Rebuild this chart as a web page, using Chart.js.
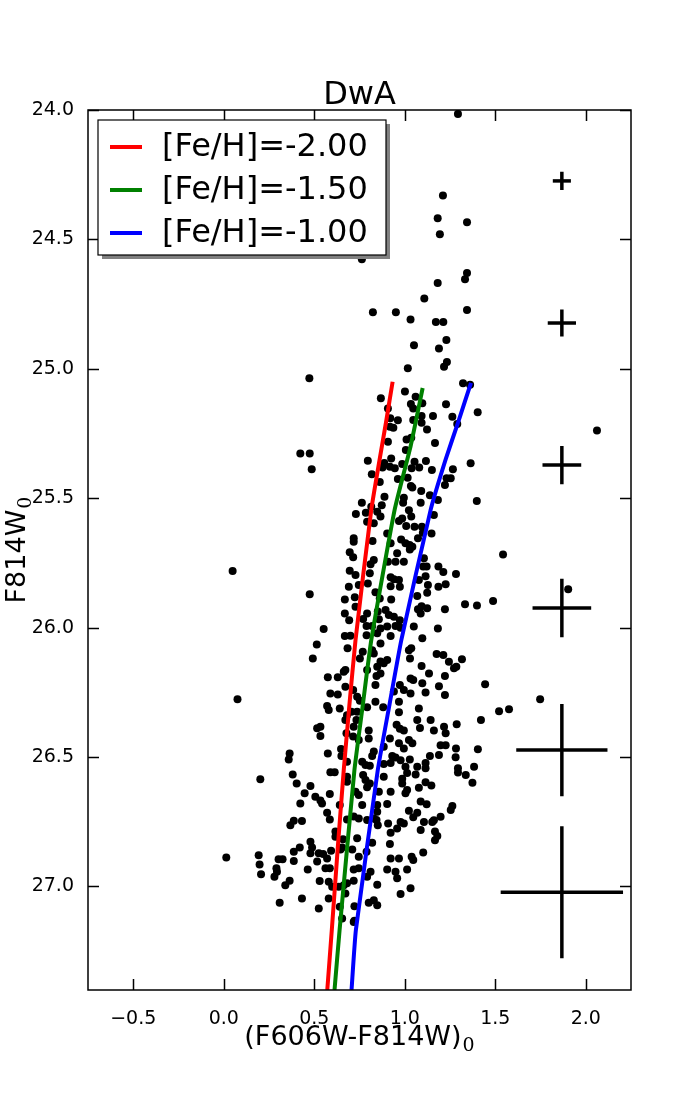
<!DOCTYPE html>
<html>
<head>
<meta charset="utf-8">
<script src="https://cdn.jsdelivr.net/npm/chart.js@4.4.0/dist/chart.umd.min.js"></script>
<style>
  html, body { margin: 0; padding: 0; background: #fff; }
</style>
</head>
<body>
<canvas id="cmd" width="700" height="1100"></canvas>
<script>
// stars: [colour (F606W-F814W)0, magnitude F814W0]
const stars = [
  [1.294,24.015],[1.211,24.330],[1.182,24.418],[1.344,24.434],[1.194,24.480],[0.763,24.577],[1.344,24.630],[1.333,24.654],
  [1.182,24.668],[1.108,24.728],[0.824,24.781],[0.951,24.781],[1.344,24.773],[1.032,24.809],[1.172,24.819],[1.213,24.819],
  [1.230,24.889],[1.051,24.909],[1.189,24.921],[1.233,24.974],[1.217,24.992],[1.017,24.998],[0.473,25.036],
  [0.423,25.327],[0.475,25.327],[0.486,25.388],
  [1.322,25.056],[1.361,25.062],[1.001,25.088],[0.868,25.114],[1.060,25.108],[1.097,25.133],[1.034,25.136],[1.047,25.153],
  [1.228,25.137],[1.403,25.168],[0.907,25.153],[0.920,25.191],[0.962,25.199],[1.047,25.198],[1.093,25.182],[1.093,25.208],
  [1.156,25.182],[1.263,25.185],[1.290,25.213],[0.918,25.224],[0.937,25.228],[1.123,25.234],[1.036,25.266],[1.010,25.273],
  [1.167,25.287],[0.907,25.282],[1.006,25.314],[0.796,25.355],[0.925,25.346],[0.887,25.364],[0.877,25.381],[0.918,25.378],
  [0.945,25.384],[0.986,25.368],[1.054,25.359],[1.038,25.384],[1.080,25.381],[1.117,25.356],[1.150,25.391],[1.266,25.388],
  [1.364,25.365],[0.818,25.407],[0.962,25.426],[1.016,25.421],[1.231,25.423],[1.254,25.423],[1.222,25.449],[0.862,25.437],
  [1.034,25.453],[1.042,25.459],[1.091,25.472],[0.888,25.494],[0.995,25.498],[1.139,25.488],[0.763,25.517],[0.815,25.533],
  [0.873,25.527],[0.991,25.517],[1.088,25.517],[1.183,25.507],[1.398,25.511],
  [2.062,25.238],[1.543,25.717],[1.213,25.785],[1.283,25.793],[1.226,25.832],[1.903,25.852],[1.333,25.910],[1.399,25.914],
  [1.488,25.897],[1.222,25.929],[1.213,26.106],[1.244,26.132],[1.272,26.157],[1.285,26.151],[1.316,26.122],[1.222,26.187],
  [1.444,26.219],[1.222,26.260],[1.748,26.277],[1.521,26.323],[1.576,26.315],[1.421,26.357],[1.287,26.373],[1.217,26.383],
  [0.730,25.561],[0.718,25.655],[0.718,25.668],[0.696,25.709],[0.715,25.728],[0.049,25.781],[0.696,25.780],[0.728,25.797],
  [0.691,25.842],[0.475,25.871],[0.669,25.891],[0.724,25.883],[0.669,25.945],[0.552,26.005],[0.669,26.032],[0.700,26.031],
  [0.785,25.556],[0.848,25.552],[1.023,25.546],[1.161,25.565],[0.792,25.591],[0.829,25.597],[0.866,25.571],[0.968,25.588],
  [0.986,25.578],[1.036,25.571],[1.008,25.607],[1.054,25.610],[1.095,25.610],[0.903,25.636],[1.100,25.633],[1.148,25.636],
  [0.822,25.665],[0.980,25.659],[1.004,25.674],[1.027,25.681],[1.073,25.655],[0.922,25.674],[0.958,25.713],[1.028,25.698],
  [1.042,25.687],[0.829,25.739],[0.907,25.745],[0.949,25.745],[0.995,25.745],[1.106,25.732],[1.102,25.764],[1.121,25.764],
  [1.186,25.764],[0.811,25.755],[0.807,25.790],[0.922,25.805],[0.940,25.813],[0.968,25.816],[1.078,25.816],[1.115,25.801],
  [0.746,25.835],[0.796,25.829],[0.922,25.840],[0.973,25.842],[1.128,25.835],[1.186,25.842],[0.838,25.863],[0.862,25.887],
  [0.925,25.891],[1.069,25.878],[1.124,25.865],[0.728,25.919],[0.792,25.945],[0.851,25.938],[0.857,25.968],[0.894,25.932],
  [0.912,25.951],[0.940,25.958],[0.973,25.971],[1.073,25.929],[1.093,25.917],[1.088,25.945],[1.124,25.925],[0.693,25.971],
  [0.770,25.967],[0.789,25.994],[0.820,25.994],[0.866,26.003],[0.903,25.996],[0.949,25.994],[0.977,26.000],[1.050,25.996],
  [1.183,26.003],[0.789,26.029],[0.848,26.022],[0.922,26.032],[1.097,26.041],
  [0.514,26.065],[0.684,26.080],[0.492,26.119],[0.752,26.119],[0.672,26.164],[0.663,26.170],[0.575,26.192],[0.630,26.192],
  [0.076,26.277],[0.589,26.254],[0.630,26.258],[0.715,26.241],[0.737,26.267],[0.752,26.282],[0.571,26.303],[0.580,26.318],
  [0.641,26.312],[0.681,26.338],[0.705,26.325],[0.672,26.357],[0.733,26.357],[0.534,26.383],[0.516,26.389],[0.534,26.419],
  [0.718,26.383],[0.715,26.421],[0.364,26.486],[0.359,26.509],[0.575,26.486],[0.648,26.469],[0.650,26.496],[0.681,26.518],
  [0.866,26.061],[0.768,26.093],[0.820,26.087],[0.829,26.100],[1.023,26.087],[1.036,26.080],[1.029,26.119],[1.176,26.102],
  [0.866,26.131],[0.884,26.138],[0.903,26.125],[0.848,26.151],[0.792,26.164],[1.093,26.148],[1.134,26.177],[1.032,26.196],
  [1.047,26.202],[0.844,26.187],[0.866,26.177],[0.838,26.222],[0.973,26.222],[0.995,26.241],[1.097,26.215],[1.115,26.251],
  [1.189,26.226],[0.672,26.228],[0.940,26.247],[1.032,26.254],[0.838,26.286],[0.792,26.308],[0.968,26.286],[0.881,26.308],
  [1.078,26.312],[0.737,26.325],[0.968,26.327],[1.069,26.357],[1.143,26.357],[0.955,26.375],[0.973,26.391],[0.995,26.397],
  [1.084,26.388],[1.161,26.397],[1.226,26.408],[0.801,26.397],[0.918,26.428],[1.023,26.434],[1.042,26.447],[0.801,26.428],
  [0.678,26.408],[1.198,26.454],[1.226,26.454],[1.283,26.467],[1.404,26.470],[0.995,26.467],[0.968,26.447],[0.884,26.460],
  [0.829,26.479],[0.820,26.496],[0.931,26.496],[0.949,26.502],[0.977,26.512],[1.028,26.509],[1.139,26.496],[1.189,26.492],
  [1.281,26.501],[0.746,26.434],[0.765,26.518],[0.783,26.531],[0.922,26.523],[1.004,26.537],[1.069,26.537],[1.115,26.523],
  [1.115,26.543],[1.383,26.537],[1.294,26.543],
  [0.202,26.586],[0.589,26.559],[0.613,26.559],[0.381,26.567],[0.403,26.602],[0.479,26.612],[0.447,26.640],[0.506,26.653],
  [0.534,26.668],[0.543,26.679],[0.586,26.643],[0.423,26.679],[0.641,26.685],[0.571,26.715],[0.586,26.741],[0.387,26.746],
  [0.368,26.763],[0.432,26.747],[0.681,26.741],[0.718,26.730],[0.617,26.788],[0.617,26.808],[0.479,26.827],[0.488,26.849],
  [0.659,26.818],[0.737,26.814],[0.420,26.849],[0.387,26.866],[0.014,26.888],[0.193,26.879],[0.198,26.915],[0.206,26.953],
  [0.303,26.895],[0.325,26.895],[0.387,26.902],[0.479,26.872],[0.525,26.872],[0.549,26.875],[0.571,26.892],[0.593,26.862],
  [0.645,26.857],[0.710,26.857],[0.464,26.934],[0.291,26.930],[0.280,26.962],[0.294,26.943],[0.516,26.904],[0.562,26.930],
  [0.586,26.930],[0.364,26.978],[0.340,26.995],[0.530,26.979],[0.580,26.982],[0.599,27.001],[0.635,27.001],[0.663,26.995],
  [0.681,26.988],[0.718,26.978],[0.432,27.046],[0.580,27.046],[0.309,27.063],[0.525,27.085],[0.641,27.078],[0.722,27.076],
  [0.722,27.132],
  [0.770,26.569],[0.807,26.534],[0.884,26.527],[0.986,26.584],[1.013,26.562],[1.060,26.567],[1.115,26.597],[1.147,26.610],
  [1.078,26.619],[1.294,26.560],[1.337,26.569],[1.374,26.599],[0.783,26.589],[0.807,26.602],[0.792,26.617],[0.681,26.576],
  [0.681,26.595],[0.884,26.576],[0.986,26.602],[1.013,26.627],[1.004,26.640],[0.857,26.634],[0.922,26.634],[0.728,26.634],
  [0.746,26.647],[0.848,26.685],[0.903,26.681],[0.765,26.685],[1.088,26.672],[1.121,26.682],[1.263,26.689],[1.254,26.705],
  [1.023,26.707],[1.069,26.715],[1.047,26.733],[0.848,26.711],[0.829,26.737],[0.844,26.743],[0.746,26.737],[0.792,26.743],
  [1.106,26.751],[1.152,26.751],[1.161,26.744],[1.198,26.731],[0.908,26.757],[0.977,26.751],[0.995,26.757],[0.958,26.776],
  [0.922,26.792],[1.088,26.782],[1.167,26.788],[1.180,26.805],[1.167,26.821],[0.851,26.763],[0.654,26.849],[0.820,26.831],
  [0.789,26.866],[0.918,26.836],[1.102,26.869],[0.922,26.892],[0.968,26.892],[1.038,26.885],[1.047,26.898],[0.746,26.885],
  [0.718,26.934],[0.746,26.930],[0.811,26.943],[0.792,26.962],[0.903,26.934],[0.949,26.943],[0.958,26.968],[1.013,26.934],
  [0.848,26.993],[0.672,27.027],[0.977,27.029],[1.032,27.007],[0.801,27.063],[0.829,27.053],[0.848,27.073],[0.654,27.124],
  [0.718,27.137]
];

// isochrones
const isoLabels = ['[Fe/H]=-2.00', '[Fe/H]=-1.50', '[Fe/H]=-1.00'];
const isoColours = ['#ff0000', '#008000', '#0000ff'];
const isoRedCol = [0.933, 0.898, 0.815, 0.728, 0.694, 0.663, 0.630, 0.597, 0.572];
const isoRedMag = [25.05, 25.20, 25.545, 26.048, 26.30, 26.55, 26.85, 27.168, 27.40];
const isoGreenCol = [1.099, 1.032, 0.944, 0.815, 0.768, 0.722, 0.640, 0.612];
const isoGreenMag = [25.074, 25.30, 25.545, 26.048, 26.30, 26.55, 27.168, 27.40];
const isoBlueCol = [1.366, 1.298, 1.226, 1.143, 0.981, 0.915, 0.851, 0.730, 0.706];
const isoBlueMag = [25.054, 25.20, 25.35, 25.545, 26.048, 26.30, 26.55, 27.168, 27.40];

// photometric error crosses
const errCol = [1.868, 1.868, 1.868, 1.868, 1.868, 1.868];
const errMag = [24.274, 24.823, 25.372, 25.924, 26.473, 27.022];
const errColSize = [0.050, 0.078, 0.107, 0.162, 0.252, 0.338];
const errMagSize = [0.035, 0.052, 0.074, 0.113, 0.178, 0.255];

// axes
const xTicks = [-0.5, 0.0, 0.5, 1.0, 1.5, 2.0];
const yTicks = [24.0, 24.5, 25.0, 25.5, 26.0, 26.5, 27.0];

const fmt = v => (v < 0 ? '\u2212' : '') + Math.abs(v).toFixed(1);
const pts = (cs, ms) => cs.map((c, i) => ({ x: c, y: ms[i] }));

const datasets = [];
[[isoRedCol, isoRedMag], [isoGreenCol, isoGreenMag], [isoBlueCol, isoBlueMag]].forEach((iso, k) => {
  datasets.push({
    type: 'line', label: isoLabels[k], data: pts(iso[0], iso[1]),
    borderColor: isoColours[k], borderWidth: 4, pointRadius: 0, fill: false, tension: 0.15, order: 0
  });
});
errCol.forEach((c, i) => {
  const m = errMag[i], dx = errColSize[i], dy = errMagSize[i];
  datasets.push({ type: 'line', label: 'err', data: [{ x: c - dx, y: m }, { x: c + dx, y: m }],
    borderColor: '#000', borderWidth: 3.5, borderCapStyle: 'butt', pointRadius: 0, order: 1 });
  datasets.push({ type: 'line', label: 'err', data: [{ x: c, y: m - dy }, { x: c, y: m + dy }],
    borderColor: '#000', borderWidth: 3.5, borderCapStyle: 'butt', pointRadius: 0, order: 1 });
});
datasets.push({
  type: 'scatter', label: 'stars', data: stars.map(s => ({ x: s[0], y: s[1] })),
  backgroundColor: '#000', borderWidth: 0, pointRadius: 4, order: 2
});

function drawWithSub(ctx, main, sub, x, y) {
  ctx.font = '27px "DejaVu Sans"';
  const w1 = ctx.measureText(main).width;
  ctx.font = '19px "DejaVu Serif"';
  const w2 = ctx.measureText(sub).width;
  const x0 = x - (w1 + w2 + 1) / 2;
  ctx.font = '27px "DejaVu Sans"';
  ctx.fillText(main, x0, y);
  ctx.font = '19px "DejaVu Serif"';
  ctx.fillText(sub, x0 + w1 + 1, y + 6);
}

const decor = {
  id: 'decor',
  afterDatasetsDraw(chart) {
    const { ctx, chartArea: a, scales } = chart;
    ctx.save();
    // ticks inside on all four sides
    ctx.strokeStyle = '#000';
    ctx.lineWidth = 1.5;
    const tl = 11;
    scales.x.ticks.forEach(t => {
      const px = Math.round(scales.x.getPixelForValue(t.value)) + 0.5;
      ctx.beginPath();
      ctx.moveTo(px, a.bottom); ctx.lineTo(px, a.bottom - tl);
      ctx.moveTo(px, a.top); ctx.lineTo(px, a.top + tl);
      ctx.stroke();
    });
    scales.y.ticks.forEach(t => {
      const py = Math.round(scales.y.getPixelForValue(t.value)) + 0.5;
      ctx.beginPath();
      ctx.moveTo(a.left, py); ctx.lineTo(a.left + tl, py);
      ctx.moveTo(a.right, py); ctx.lineTo(a.right - tl, py);
      ctx.stroke();
    });
    ctx.strokeRect(a.left, a.top, a.right - a.left, a.bottom - a.top);

    // legend with shadow
    const lx = a.left + 10, ly = a.top + 10, lw = 288, lh = 135;
    ctx.fillStyle = '#808080';
    ctx.fillRect(lx + 4, ly + 4, lw, lh);
    ctx.fillStyle = '#fff';
    ctx.fillRect(lx, ly, lw, lh);
    ctx.lineWidth = 1.2;
    ctx.strokeRect(lx, ly, lw, lh);
    ctx.font = '32px "DejaVu Sans"';
    ctx.textBaseline = 'middle';
    isoLabels.forEach((lab, k) => {
      const yy = ly + 27 + k * 43;
      ctx.strokeStyle = isoColours[k];
      ctx.lineWidth = 4;
      ctx.beginPath();
      ctx.moveTo(lx + 12, yy); ctx.lineTo(lx + 44, yy);
      ctx.stroke();
      ctx.fillStyle = '#000';
      ctx.fillText(lab, lx + 64, yy + 1);
    });

    // title and axis labels
    ctx.textBaseline = 'alphabetic';
    ctx.fillStyle = '#000';
    ctx.font = '32px "DejaVu Sans"';
    ctx.textAlign = 'center';
    ctx.fillText('DwA', (a.left + a.right) / 2, a.top - 6);
    ctx.textAlign = 'left';
    drawWithSub(ctx, '(F606W-F814W)', '0', (a.left + a.right) / 2, 1045);
    ctx.translate(25, (a.top + a.bottom) / 2);
    ctx.rotate(-Math.PI / 2);
    drawWithSub(ctx, 'F814W', '0', 0, 0);
    ctx.restore();
  }
};

new Chart(document.getElementById('cmd'), {
  type: 'scatter',
  data: { datasets },
  options: {
    responsive: false,
    devicePixelRatio: 1,
    animation: false,
    layout: { padding: { top: 110, right: 69, bottom: 50, left: 0 } },
    plugins: { legend: { display: false }, tooltip: { enabled: false }, title: { display: false } },
    scales: {
      x: {
        type: 'linear', min: -0.75, max: 2.25,
        grid: { display: false }, border: { display: false },
        afterBuildTicks: s => { s.ticks = xTicks.map(v => ({ value: v })); },
        afterFit: s => { s.height = 60; },
        ticks: { color: '#000', font: { family: 'DejaVu Sans', size: 19 }, padding: 10, maxRotation: 0,
          callback: v => fmt(v) }
      },
      y: {
        type: 'linear', min: 24.0, max: 27.4, reverse: true,
        grid: { display: false }, border: { display: false },
        afterBuildTicks: s => { s.ticks = yTicks.map(v => ({ value: v })); },
        afterFit: s => { s.width = 88; },
        ticks: { color: '#000', font: { family: 'DejaVu Sans', size: 19 }, padding: 6,
          callback: v => fmt(v) }
      }
    }
  },
  plugins: [decor]
});
</script>
</body>
</html>
